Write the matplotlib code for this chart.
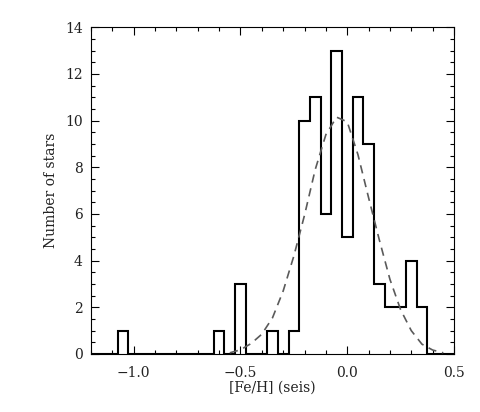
import numpy as np
import matplotlib
matplotlib.use("Agg")
import matplotlib.pyplot as plt
from matplotlib.ticker import MultipleLocator

plt.rcParams['font.family'] = ['DejaVu Serif']

# histogram: bin centres and counts
bin_centres = np.round(np.arange(-1.2, 0.5001, 0.05), 2)
counts = {-1.05: 1, -0.60: 1, -0.50: 3, -0.35: 1, -0.25: 1,
          -0.20: 10, -0.15: 11, -0.10: 6, -0.05: 13, 0.00: 5,
          0.05: 11, 0.10: 9, 0.15: 3, 0.20: 2, 0.25: 2,
          0.30: 4, 0.35: 2}
n_stars = np.array([counts.get(c, 0) for c in bin_centres])

# dashed gaussian fit
fit_x = [-0.55, -0.50, -0.45, -0.40, -0.35, -0.30, -0.25, -0.20, -0.15, -0.10,
         -0.05, 0.00, 0.05, 0.10, 0.15, 0.20, 0.25, 0.30, 0.35, 0.40, 0.45]
fit_y = [0.05, 0.18, 0.45, 0.85, 1.55, 2.7, 4.2, 5.95, 7.9, 9.4,
         10.15, 9.95, 8.55, 6.7, 4.9, 3.2, 1.9, 1.0, 0.42, 0.17, 0.05]

fig = plt.figure(figsize=(4.8, 4.12), dpi=100)
ax = fig.add_axes([0.1896, 0.1408, 0.7562, 0.7929])

# step outline from bin edges
edges = np.append(bin_centres - 0.025, bin_centres[-1] + 0.025)
ax.stairs(n_stars, edges, color='k', linewidth=1.5, baseline=None)
ax.plot(fit_x, fit_y, color='#5a5a5a', linestyle=(0, (5, 3.5)), linewidth=1.2)

ax.set_xlim(-1.2, 0.5)
ax.set_ylim(0, 14)
ax.xaxis.set_major_locator(MultipleLocator(0.5))
ax.xaxis.set_minor_locator(MultipleLocator(0.1))
ax.yaxis.set_major_locator(MultipleLocator(2))
ax.yaxis.set_minor_locator(MultipleLocator(0.5))
ax.tick_params(which='both', direction='in', top=True, right=True,
               labelsize=10, labelcolor='#222222')
ax.tick_params(axis='x', which='both', pad=9)
ax.tick_params(axis='y', which='both', pad=6)
ax.tick_params(which='major', length=6, width=0.8)
ax.tick_params(which='minor', length=3, width=0.8)
ax.xaxis.set_major_formatter(plt.FuncFormatter(lambda v, p: ('%.1f' % v).replace('-', '\u2212')))
for s in ax.spines.values():
    s.set_linewidth(0.8)

ax.set_xlabel('[Fe/H] (seis)', fontsize=10, labelpad=0, color='#222222')
ax.set_ylabel('Number of stars', fontsize=10, labelpad=5, color='#222222')

plt.savefig('out.png', dpi=100)
